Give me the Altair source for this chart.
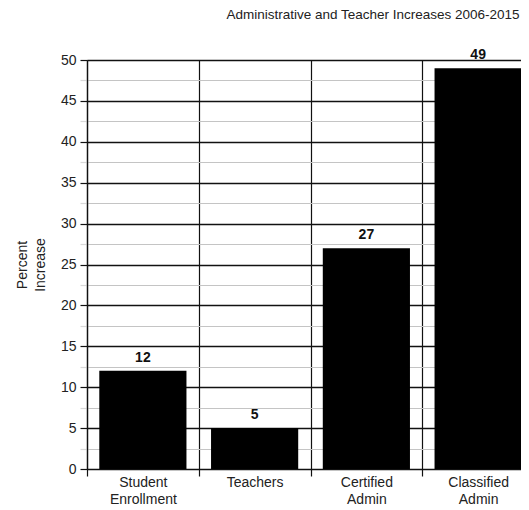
import altair as alt
import pandas as pd

categories = ["Student Enrollment", "Teachers", "Certified Admin", "Classified Admin"]
values = [12, 5, 27, 49]
y_ticks = [0, 2.5, 5, 7.5, 10, 12.5, 15, 17.5, 20, 22.5, 25, 27.5, 30,
           32.5, 35, 37.5, 40, 42.5, 45, 47.5, 50]
title_text = "Administrative and Teacher Increases 2006-2015"
y_title = ["Percent", "Increase"]

FONT = "Liberation Sans"
df = pd.DataFrame({"category": categories, "value": values})

major = "datum.value % 5 === 0"

base = alt.Chart(df).encode(
    x=alt.X(
        "category:N",
        sort=categories,
        scale=alt.Scale(paddingInner=0, paddingOuter=0),
        axis=alt.Axis(
            title=None,
            tickBand="extent",
            grid=True,
            gridColor="#111",
            gridWidth=1.2,
            gridOpacity=1,
            tickColor="#111",
            tickWidth=1.2,
            tickSize=7,
            domainColor="#111",
            labelAngle=0,
            labelExpr="split(datum.label, ' ')",
            labelLineHeight=17,
            labelPadding=-1,
            labelFont=FONT,
            labelFontSize=14,
            labelColor="#222",
        ),
    ),
    y=alt.Y(
        "value:Q",
        scale=alt.Scale(domain=[0, 50], nice=False),
        axis=alt.Axis(
            values=y_ticks,
            title=y_title,
            titleFont=FONT,
            titleFontSize=14,
            titleFontWeight="normal",
            titleColor="#222",
            titleLineHeight=18,
            titleX=-65,
            titleY=204.5,
            titleAngle=-90,
            titleBaseline="middle",
            labelExpr=f"{major} ? datum.label : ''",
            labelFont=FONT,
            labelFontSize=14,
            labelColor="#222",
            labelPadding=4,
            grid=True,
            gridOpacity=1,
            gridColor=alt.condition(major, alt.value("#111"), alt.value("#c4c4c4")),
            gridWidth=alt.condition(major, alt.value(1.3), alt.value(1)),
            tickColor=alt.condition(major, alt.value("#111"), alt.value("#d8d8d8")),
            tickSize=7,
            tickWidth=1.2,
            domainColor="#111",
            domainWidth=1.3,
        ),
    ),
)

bars = base.mark_bar(color="black", width={"band": 0.78})
labels = base.mark_text(
    dy=-9, baseline="alphabetic", fontWeight="bold", fontSize=14, font=FONT, color="#111"
).encode(text="value:Q")

chart = (
    alt.layer(bars, labels)
    .properties(
        width=447,
        height=409,
        autosize=alt.AutoSizeParams(type="none"),
        padding={"left": 79, "top": 52, "right": -13, "bottom": 41},
        title=alt.Title(
            title_text,
            anchor="end",
            dx=-15,
            offset=27,
            font=FONT,
            fontSize=13.5,
            fontWeight="normal",
            color="#222",
        ),
    )
    .configure_view(stroke=None)
)

chart.save("out.html", embed_options={"renderer": "svg", "actions": False})
